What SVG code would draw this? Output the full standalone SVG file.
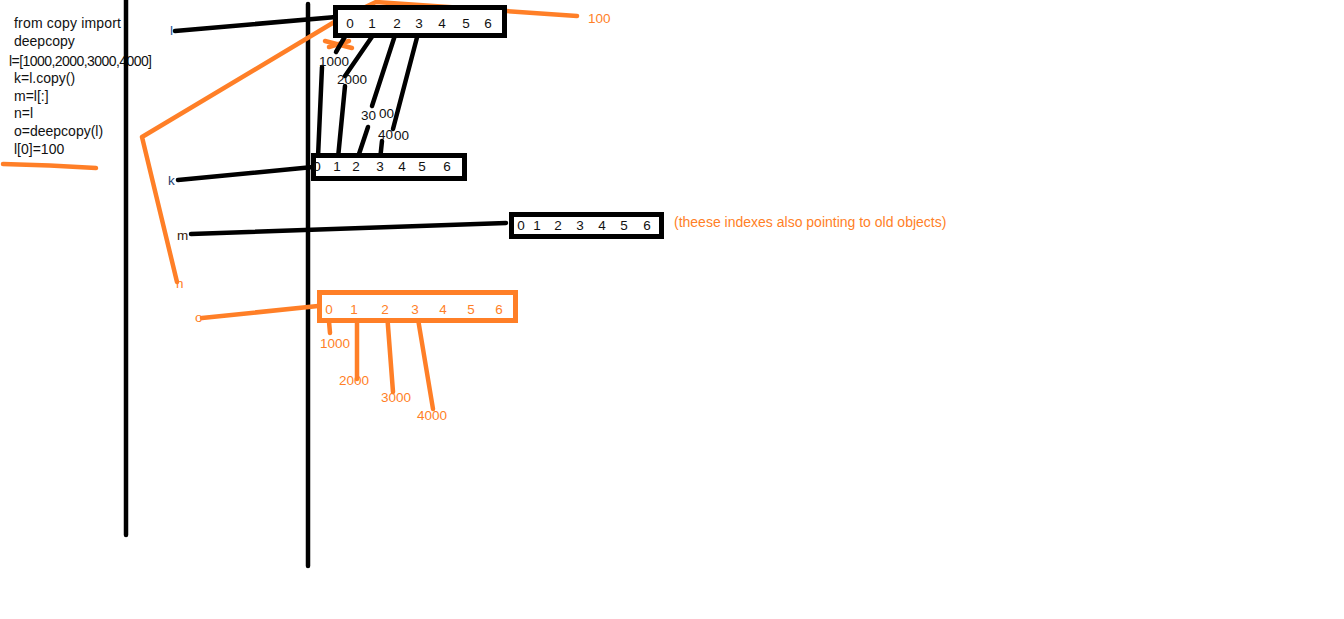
<svg xmlns="http://www.w3.org/2000/svg" width="1344" height="619" viewBox="0 0 1344 619">
<style>
text{font-family:"Liberation Sans",Arial,sans-serif;font-size:13.5px;fill:#111;dominant-baseline:central}
.code{font-size:14px}
.or{fill:#ff7f27}
.note{font-size:14px}
.idx text{text-anchor:middle}
.box{fill:#fff;stroke:#000;stroke-width:5}
.obox{fill:#fff;stroke:#ff7f27;stroke-width:5}
.bl{stroke:#000;stroke-width:4.5;stroke-linecap:round;fill:none}
.ol{stroke:#ff7f27;stroke-width:4.5;stroke-linecap:round;stroke-linejoin:round;fill:none}
</style>
<rect width="1344" height="619" fill="#fff"/>
<g id="code">
<text class="code" x="14" y="23" textLength="107">from copy import</text>
<text class="code" x="14" y="41">deepcopy</text>
<text class="code" x="9" y="61" textLength="143">l=[1000,2000,3000,4000]</text>
<text class="code" x="14" y="78">k=l.copy()</text>
<text class="code" x="14" y="96">m=l[:]</text>
<text class="code" x="14" y="113">n=l</text>
<text class="code" x="14" y="131">o=deepcopy(l)</text>
<text class="code" x="14" y="149">l[0]=100</text>
<path class="ol" d="M3,164 Q50,165 96,168"/>
</g>
<g id="dividers">
<line class="bl" x1="126" y1="0" x2="126" y2="535"/>
<line class="bl" x1="308" y1="4" x2="308" y2="566"/>
</g>
<g id="connectors">
<line class="bl" x1="175" y1="31" x2="336" y2="17"/>
<line class="bl" x1="178" y1="180" x2="313" y2="167"/>
<line class="bl" x1="191" y1="234" x2="506" y2="223"/>
<line class="ol" x1="202" y1="318" x2="318" y2="306"/>
<polyline class="ol" points="177,282 142,137 336,21 376,2 577,16"/>
<line class="ol" x1="325" y1="41" x2="352" y2="48"/>
<line class="ol" x1="329" y1="47" x2="349" y2="41"/>
<line class="bl" x1="350" y1="28" x2="336" y2="52"/>
<line class="bl" x1="378" y1="28" x2="345" y2="76"/>
<line class="bl" x1="398" y1="26" x2="372" y2="106"/>
<line class="bl" x1="420" y1="26" x2="393" y2="129"/>
<line class="bl" x1="322" y1="67" x2="318" y2="157"/>
<line class="bl" x1="345" y1="86" x2="338" y2="158"/>
<line class="bl" x1="368" y1="127" x2="357" y2="160"/>
<line class="bl" x1="382" y1="141" x2="380" y2="160"/>
<line class="ol" x1="328" y1="310" x2="330" y2="333"/>
<line class="ol" x1="357" y1="314" x2="357" y2="379"/>
<line class="ol" x1="387" y1="313" x2="393" y2="392"/>
<line class="ol" x1="417" y1="313" x2="433" y2="409"/>
</g>
<g id="box-l">
<rect class="box" x="335.5" y="7.5" width="169" height="28"/>
<g class="idx"><text x="350" y="23">0</text><text x="372" y="23">1</text><text x="397" y="23">2</text><text x="419" y="23">3</text><text x="442" y="23">4</text><text x="466" y="23">5</text><text x="488" y="23">6</text></g>
<text x="170" y="30" style="fill:#1f5a99">l</text>
</g>
<g id="values-l">
<text x="319" y="61">1000</text>
<text x="337" y="79">2000</text>
<text x="361" y="115">30<tspan dx="3" dy="-2">00</tspan></text>
<text x="378" y="134">40<tspan dx="1" dy="1">00</tspan></text>
</g>
<g id="box-k">
<rect class="box" x="313.5" y="155.5" width="151" height="23"/>
<g class="idx"><text x="317" y="166">0</text><text x="337" y="166">1</text><text x="356" y="166">2</text><text x="380" y="166">3</text><text x="402" y="166">4</text><text x="422" y="166">5</text><text x="447" y="166">6</text></g>
<text x="168" y="180" style="fill:#1f3f70">k</text>
</g>
<g id="box-m">
<rect class="box" x="511.5" y="214.5" width="150" height="22"/>
<g class="idx"><text x="521" y="225">0</text><text x="537" y="225">1</text><text x="558" y="225">2</text><text x="580" y="225">3</text><text x="602" y="225">4</text><text x="624" y="225">5</text><text x="647" y="225">6</text></g>
<text x="177" y="235" style="fill:#3a2008">m</text>
<text class="or note" x="674" y="222">(theese indexes also pointing to old objects)</text>
</g>
<g id="label-n">
<text class="or" x="176" y="283">n</text>
</g>
<g id="box-o">
<rect class="obox" x="319.5" y="292.5" width="196" height="28"/>
<g class="idx"><text class="or" x="329" y="309">0</text><text class="or" x="354" y="309">1</text><text class="or" x="385" y="309">2</text><text class="or" x="415" y="309">3</text><text class="or" x="443" y="309">4</text><text class="or" x="471" y="309">5</text><text class="or" x="499" y="309">6</text></g>
<text class="or" x="195" y="317">o</text>
</g>
<g id="values-o">
<text class="or" x="320" y="343">1000</text>
<text class="or" x="339" y="380">2000</text>
<text class="or" x="381" y="397">3000</text>
<text class="or" x="417" y="415">4000</text>
</g>
<g id="label-100">
<text class="or" x="588" y="18">100</text>
</g>
</svg>
